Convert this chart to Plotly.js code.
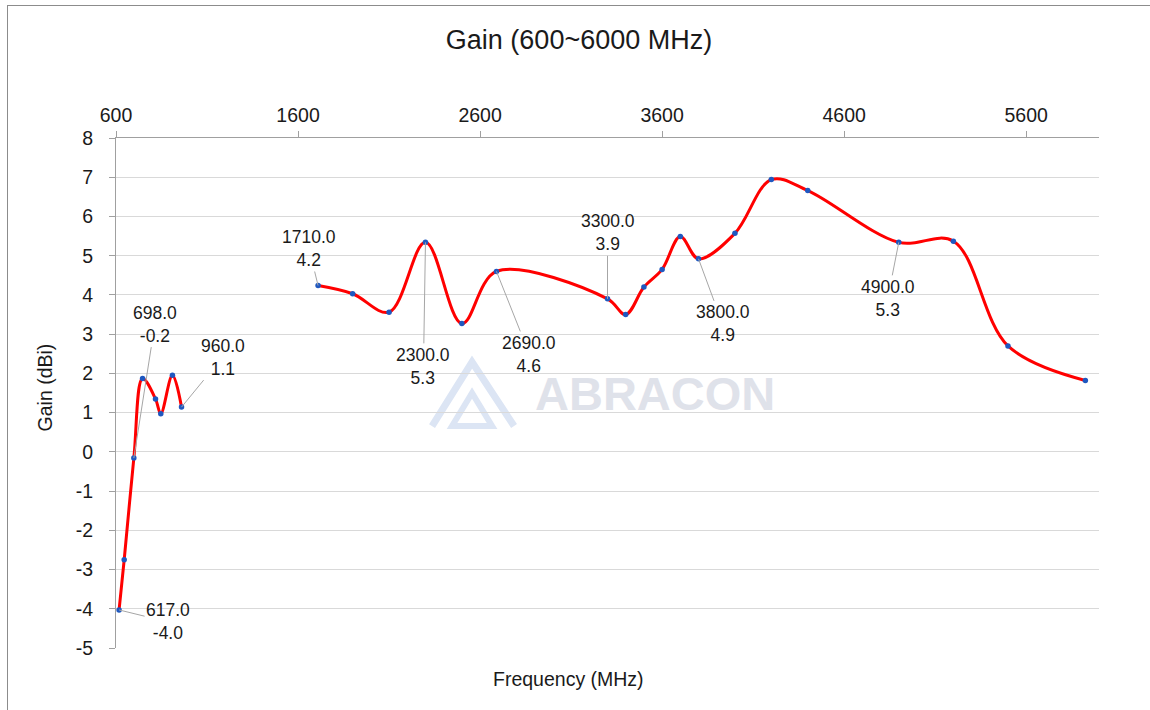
<!DOCTYPE html>
<html>
<head>
<meta charset="utf-8">
<script src="https://cdn.plot.ly/plotly-3.0.1.min.js"></script>
<style>
  html, body { margin: 0; padding: 0; background: #ffffff; }
  #chart { width: 1150px; height: 710px; position: relative; }
  #frame { position: absolute; left: 7px; top: 5px; width: 1160px; height: 720px;
           border-left: 1px solid #8c8c8c; border-top: 1px solid #8c8c8c; pointer-events: none; }
</style>
</head>
<body>
<div id="chart"></div>
<div id="frame"></div>
<script>
// ---- Data ----
const lowBandFreqMHz  = [617, 645, 698, 746, 817, 846, 910, 960];
const lowBandGainDbi  = [-4.03, -2.75, -0.16, 1.87, 1.35, 0.97, 1.95, 1.14];
const highBandFreqMHz = [1710, 1900, 2100, 2300, 2500, 2690, 3300, 3400, 3500, 3600, 3700, 3800, 4000, 4200, 4400, 4900, 5200, 5500, 5925];
const highBandGainDbi = [4.24, 4.03, 3.56, 5.34, 3.27, 4.60, 3.90, 3.50, 4.20, 4.65, 5.49, 4.92, 5.57, 6.94, 6.66, 5.34, 5.37, 2.70, 1.82];
const labelledFreqMHz = [617, 698, 960, 1710, 2300, 2690, 3300, 3800, 4900];
const xTickValues     = [600, 1600, 2600, 3600, 4600, 5600];
const yTickValues     = [-5, -4, -3, -2, -1, 0, 1, 2, 3, 4, 5, 6, 7, 8];
const yTickLabels     = ['-5', '-4', '-3', '-2', '-1', '0', '1', '2', '3', '4', '5', '6', '7', '8'];

// ---- Label placement (pixel offsets of each data label from its point) ----
const labelOffsets = {
  617: [49, 12], 698: [21, -134], 960: [41, -50], 1710: [-9, -37],
  2300: [-2, 124], 2690: [33, 83], 3300: [0, -66], 3800: [24, 65], 4900: [-11, 56]
};

const FONT = '"Liberation Sans", Arial, sans-serif';
const lineStyle = { color: '#ff0000', width: 3, shape: 'spline', smoothing: 1 };
const markerStyle = { color: '#1f58c0', size: 5.5 };

const traces = [
  { x: lowBandFreqMHz, y: lowBandGainDbi, type: 'scatter', mode: 'lines+markers',
    line: lineStyle, marker: markerStyle, hoverinfo: 'x+y', showlegend: false },
  { x: highBandFreqMHz, y: highBandGainDbi, type: 'scatter', mode: 'lines+markers',
    line: lineStyle, marker: markerStyle, hoverinfo: 'x+y', showlegend: false }
];

const allFreq = lowBandFreqMHz.concat(highBandFreqMHz);
const allGain = lowBandGainDbi.concat(highBandGainDbi);

const annotations = labelledFreqMHz.map(f => {
  const g = allGain[allFreq.indexOf(f)];
  const off = labelOffsets[f];
  return {
    x: f, y: g, xref: 'x', yref: 'y',
    text: f.toFixed(1) + '<br>' + g.toFixed(1),
    showarrow: true, arrowhead: 0, arrowwidth: 1, arrowcolor: '#a6a6a6',
    ax: off[0], ay: off[1], standoff: 0,
    font: { family: FONT, size: 17.5, color: '#1a1a1a' }
  };
});

// axis titles and watermark
annotations.push({
  text: 'Frequency (MHz)', xref: 'paper', yref: 'paper', x: 0.4603, y: -0.0608,
  xanchor: 'center', yanchor: 'middle', showarrow: false,
  font: { family: FONT, size: 19.5, color: '#1a1a1a' }
});
annotations.push({
  text: 'Gain (dBi)', xref: 'paper', yref: 'paper', x: -0.0727, y: 0.51,
  xanchor: 'center', yanchor: 'middle', textangle: -90, showarrow: false,
  font: { family: FONT, size: 19.5, color: '#1a1a1a' }
});
annotations.push({
  text: '<b>ABRACON</b>', xref: 'paper', yref: 'paper', x: 0.548, y: 0.5,
  xanchor: 'center', yanchor: 'middle', showarrow: false,
  font: { family: FONT, size: 47, color: '#dfe2ea' }
});

const layout = {
  width: 1150, height: 710,
  margin: { l: 116, r: 51, t: 138, b: 62 },
  paper_bgcolor: '#ffffff', plot_bgcolor: '#ffffff',
  font: { family: FONT, color: '#1a1a1a' },
  title: {
    text: 'Gain (600~6000 MHz)', xref: 'container', yref: 'container',
    x: 0.5035, y: 0.9437, xanchor: 'center', yanchor: 'middle',
    font: { family: FONT, size: 27, color: '#1a1a1a' }
  },
  xaxis: {
    side: 'top', range: [600, 6000], tickmode: 'array', tickvals: xTickValues,
    showgrid: false, zeroline: false, showline: true, linecolor: '#a0a0a0', linewidth: 1,
    ticks: 'outside', ticklen: 6, tickcolor: '#a0a0a0', ticklabelstandoff: 1,
    tickfont: { family: FONT, size: 19.5, color: '#1a1a1a' }, fixedrange: true
  },
  yaxis: {
    range: [-5, 8], tickmode: 'array', tickvals: yTickValues, ticktext: yTickLabels,
    showgrid: true, gridcolor: '#d9d9d9', gridwidth: 1, zeroline: false,
    showline: true, linecolor: '#a0a0a0', linewidth: 1,
    ticks: 'outside', ticklen: 6, tickcolor: '#a0a0a0', ticklabelstandoff: 12,
    tickfont: { family: FONT, size: 19.5, color: '#1a1a1a' }, fixedrange: true
  },
  shapes: [
    { type: 'path', xref: 'paper', yref: 'paper', xsizemode: 'pixel', ysizemode: 'pixel',
      xanchor: 0.3622, yanchor: 0.496, layer: 'below',
      path: 'M -40,-31 L 0,33 L 42,-31', line: { color: '#dce5f4', width: 7 } },
    { type: 'path', xref: 'paper', yref: 'paper', xsizemode: 'pixel', ysizemode: 'pixel',
      xanchor: 0.3622, yanchor: 0.496, layer: 'below',
      path: 'M -20,-31 L 0,2 L 20,-31 Z', line: { color: '#dce5f4', width: 6 } }
  ],
  annotations: annotations,
  showlegend: false
};

Plotly.newPlot('chart', traces, layout, { displayModeBar: false, staticPlot: true });
</script>
</body>
</html>
